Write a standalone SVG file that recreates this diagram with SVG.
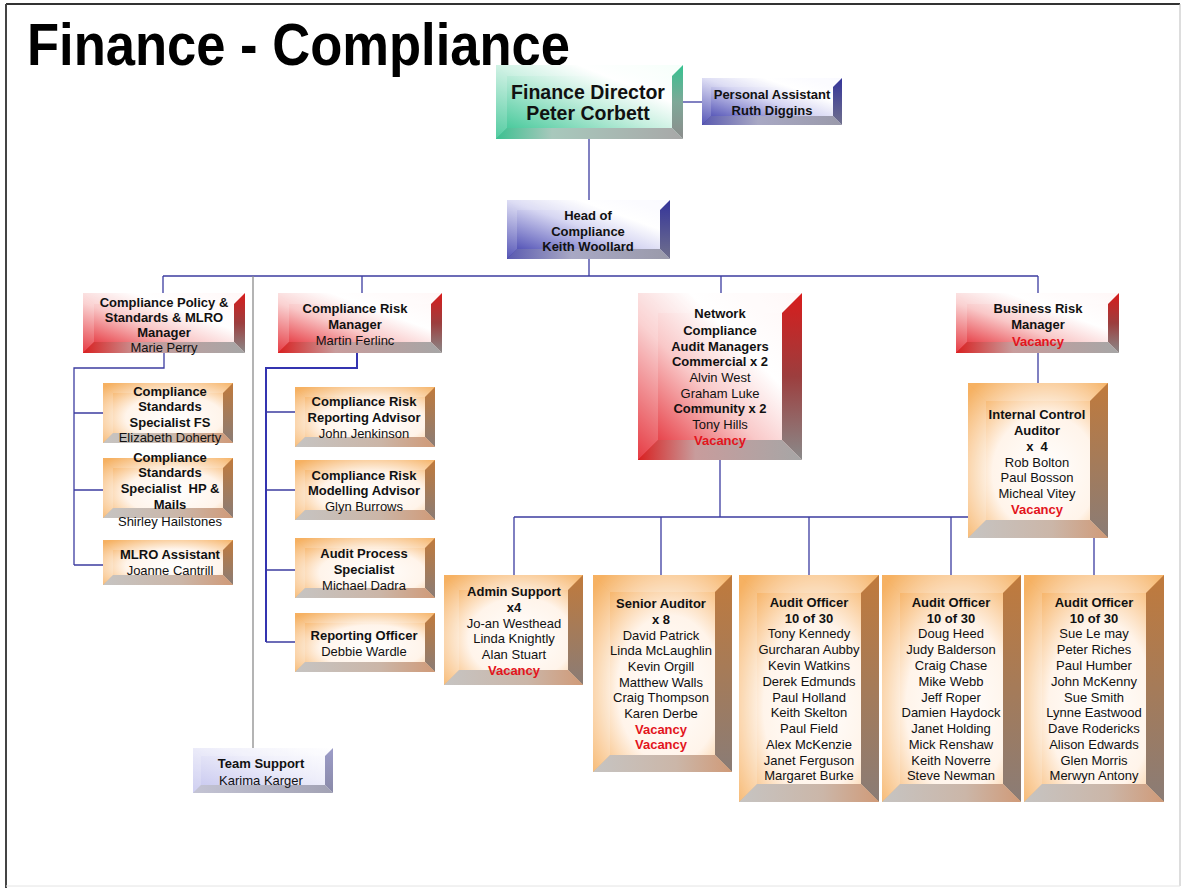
<svg xmlns="http://www.w3.org/2000/svg" width="1183" height="888" viewBox="0 0 1183 888">
<defs>
<linearGradient id="faceRed" x1="0" y1="1" x2="1" y2="0"><stop offset="0" stop-color="#e0101a"/><stop offset="0.42" stop-color="#f9c8c8"/><stop offset="0.66" stop-color="#ffffff"/><stop offset="1" stop-color="#fff6f6"/></linearGradient>
<linearGradient id="rightRed" x1="0" y1="0" x2="0" y2="1"><stop offset="0" stop-color="#d81c1c"/><stop offset="0.5" stop-color="#9c3e3e"/><stop offset="1" stop-color="#8a8a8a"/></linearGradient>
<linearGradient id="botRed" x1="0" y1="0" x2="1" y2="0"><stop offset="0" stop-color="#d82020"/><stop offset="0.35" stop-color="#c89c9c"/><stop offset="1" stop-color="#a6a6a6"/></linearGradient>
<linearGradient id="faceBlue" x1="0" y1="1" x2="1" y2="0"><stop offset="0" stop-color="#3030a6"/><stop offset="0.5" stop-color="#d6d6f2"/><stop offset="0.72" stop-color="#ffffff"/><stop offset="1" stop-color="#f8f8ff"/></linearGradient>
<linearGradient id="rightBlue" x1="0" y1="0" x2="0" y2="1"><stop offset="0" stop-color="#34349a"/><stop offset="1" stop-color="#70708c"/></linearGradient>
<linearGradient id="botBlue" x1="0" y1="0" x2="1" y2="0"><stop offset="0" stop-color="#5a5ab0"/><stop offset="0.4" stop-color="#a8a8c4"/><stop offset="1" stop-color="#9a9aaa"/></linearGradient>
<linearGradient id="faceGreen" x1="0" y1="1" x2="1" y2="0"><stop offset="0" stop-color="#2cc08c"/><stop offset="0.5" stop-color="#c6efdf"/><stop offset="0.72" stop-color="#ffffff"/><stop offset="1" stop-color="#f4fffa"/></linearGradient>
<linearGradient id="rightGreen" x1="0" y1="0" x2="0" y2="1"><stop offset="0" stop-color="#36c290"/><stop offset="0.5" stop-color="#7ea898"/><stop offset="1" stop-color="#8c8c8c"/></linearGradient>
<linearGradient id="botGreen" x1="0" y1="0" x2="1" y2="0"><stop offset="0" stop-color="#3cc090"/><stop offset="0.3" stop-color="#a8c8bc"/><stop offset="1" stop-color="#a8a8a8"/></linearGradient>
<radialGradient id="faceOrange" cx="0.55" cy="0.58" r="0.75"><stop offset="0" stop-color="#ffffff"/><stop offset="0.5" stop-color="#fff4ea"/><stop offset="1" stop-color="#f4a040"/></radialGradient>
<linearGradient id="rightOrange" x1="0" y1="0" x2="0" y2="1"><stop offset="0" stop-color="#c07a3c"/><stop offset="1" stop-color="#8a7c76"/></linearGradient>
<linearGradient id="botOrange" x1="0" y1="0" x2="1" y2="0"><stop offset="0" stop-color="#c6c4c2"/><stop offset="0.6" stop-color="#cbb6a8"/><stop offset="1" stop-color="#d09a78"/></linearGradient>
<linearGradient id="faceLav" x1="0" y1="1" x2="1" y2="0"><stop offset="0" stop-color="#c4c4ee"/><stop offset="0.6" stop-color="#eeeefa"/><stop offset="1" stop-color="#ffffff"/></linearGradient>
<linearGradient id="rightLav" x1="0" y1="0" x2="0" y2="1"><stop offset="0" stop-color="#9c9cc8"/><stop offset="1" stop-color="#8a8aa8"/></linearGradient>
<linearGradient id="botLav" x1="0" y1="0" x2="1" y2="0"><stop offset="0" stop-color="#c4c4d4"/><stop offset="1" stop-color="#a2a2b4"/></linearGradient>
</defs>
<style>
.t{font-family:"Liberation Sans",Arial,Helvetica,sans-serif;font-size:13px;text-anchor:middle;fill:#111}
.b{font-weight:bold}
.v{font-weight:bold;fill:#e3141c}
.big{font-size:19.5px;font-weight:bold}
.hi{fill:#ffffff;opacity:0.18}
.fr{fill:url(#faceRed)} .rr{fill:url(#rightRed)} .br{fill:url(#botRed)}
.fb{fill:url(#faceBlue)} .rb{fill:url(#rightBlue)} .bb{fill:url(#botBlue)}
.fg{fill:url(#faceGreen)} .rg{fill:url(#rightGreen)} .bg{fill:url(#botGreen)}
.fo{fill:url(#faceOrange)} .ro{fill:url(#rightOrange)} .bo{fill:url(#botOrange)}
.fl{fill:url(#faceLav)} .rl{fill:url(#rightLav)} .bl{fill:url(#botLav)}
.c{fill:none;stroke:#3c3ca0;stroke-width:1.3}
.c2{fill:none;stroke:#3434b0;stroke-width:2}
.cg{fill:none;stroke:#8c8c8c;stroke-width:1.3}
</style>
<rect x="0" y="0" width="1183" height="888" fill="#ffffff"/>
<g id="frame">
<line x1="6" y1="4" x2="1180" y2="4" stroke="#333" stroke-width="2"/>
<line x1="6" y1="4" x2="6" y2="888" stroke="#444" stroke-width="2"/>
<line x1="1180" y1="4" x2="1180" y2="886" stroke="#bbb" stroke-width="1"/>
<line x1="6" y1="886" x2="1180" y2="886" stroke="#e4e4e4" stroke-width="1"/>
</g>
<text x="27" y="65" font-family="Liberation Sans, Arial, sans-serif" font-size="60" font-weight="bold" textLength="543" lengthAdjust="spacingAndGlyphs" fill="#000">Finance - Compliance</text>
<g id="connectors">
<path class="c" d="M683,102H702"/>
<path class="c" d="M589,139V200"/>
<path class="c" d="M589,259V276M163,276H1038M163,276V293M362,276V293M721,276V293M1038,276V293"/>
<path class="cg" d="M253,276V748"/>
<path class="c" d="M164,353V368H74V565M74,413H103M74,490H103M74,565H103"/>
<path class="c2" d="M357,353V368H266V642"/>
<path class="c" d="M266,412H295M266,490H295M266,570H295M266,642H295"/>
<path class="c" d="M720,460V517M514,517H1094M514,517V575M661,517V575M809,517V575M951,517V575M1094,517V575"/>
<path class="c" d="M1038,353V383"/>
</g>
<g id="finance-director">
<rect class="fg" x="496" y="65" width="187" height="74"/>
<polygon class="hi" points="496,65 683,65 672,76 507,76"/>
<polygon class="hi" points="496,65 507,76 507,128 496,139"/>
<polygon class="rg" points="683,65 683,139 672,128 672,76"/>
<polygon class="bg" points="496,139 683,139 672,128 507,128"/>
<text class="t big" x="588" y="99">Finance Director</text>
<text class="t big" x="588" y="120">Peter Corbett</text>
</g>
<g id="personal-assistant">
<rect class="fb" x="702" y="78" width="140" height="47"/>
<polygon class="hi" points="702,78 842,78 833,87 711,87"/>
<polygon class="hi" points="702,78 711,87 711,116 702,125"/>
<polygon class="rb" points="842,78 842,125 833,116 833,87"/>
<polygon class="bb" points="702,125 842,125 833,116 711,116"/>
<text class="t b" x="772" y="99">Personal Assistant</text>
<text class="t b" x="772" y="115">Ruth Diggins</text>
</g>
<g id="head-of-compliance">
<rect class="fb" x="507" y="200" width="163" height="59"/>
<polygon class="hi" points="507,200 670,200 660,210 517,210"/>
<polygon class="hi" points="507,200 517,210 517,249 507,259"/>
<polygon class="rb" points="670,200 670,259 660,249 660,210"/>
<polygon class="bb" points="507,259 670,259 660,249 517,249"/>
<text class="t b" x="588" y="220">Head of</text>
<text class="t b" x="588" y="236">Compliance</text>
<text class="t b" x="588" y="251">Keith Woollard</text>
</g>
<g id="compliance-policy">
<rect class="fr" x="83" y="293" width="162" height="60"/>
<polygon class="hi" points="83,293 245,293 234,304 94,304"/>
<polygon class="hi" points="83,293 94,304 94,342 83,353"/>
<polygon class="rr" points="245,293 245,353 234,342 234,304"/>
<polygon class="br" points="83,353 245,353 234,342 94,342"/>
<text class="t b" x="164" y="307">Compliance Policy &amp;</text>
<text class="t b" x="164" y="322">Standards &amp; MLRO</text>
<text class="t b" x="164" y="337">Manager</text>
<text class="t" x="164" y="352">Marie Perry</text>
</g>
<g id="compliance-risk-manager">
<rect class="fr" x="278" y="293" width="164" height="60"/>
<polygon class="hi" points="278,293 442,293 431,304 289,304"/>
<polygon class="hi" points="278,293 289,304 289,342 278,353"/>
<polygon class="rr" points="442,293 442,353 431,342 431,304"/>
<polygon class="br" points="278,353 442,353 431,342 289,342"/>
<text class="t b" x="355" y="313">Compliance Risk</text>
<text class="t b" x="355" y="329">Manager</text>
<text class="t" x="355" y="345">Martin Ferlinc</text>
</g>
<g id="network-compliance">
<rect class="fr" x="638" y="293" width="164" height="167"/>
<polygon class="hi" points="638,293 802,293 782,313 658,313"/>
<polygon class="hi" points="638,293 658,313 658,440 638,460"/>
<polygon class="rr" points="802,293 802,460 782,440 782,313"/>
<polygon class="br" points="638,460 802,460 782,440 658,440"/>
<text class="t b" x="720" y="318">Network</text>
<text class="t b" x="720" y="334.5">Compliance</text>
<text class="t b" x="720" y="350.5">Audit Managers</text>
<text class="t b" x="720" y="366">Commercial x 2</text>
<text class="t" x="720" y="381.5">Alvin West</text>
<text class="t" x="720" y="397.5">Graham Luke</text>
<text class="t b" x="720" y="413">Community x 2</text>
<text class="t" x="720" y="428.5">Tony Hills</text>
<text class="t v" x="720" y="444.5">Vacancy</text>
</g>
<g id="business-risk-manager">
<rect class="fr" x="956" y="293" width="163" height="60"/>
<polygon class="hi" points="956,293 1119,293 1108,304 967,304"/>
<polygon class="hi" points="956,293 967,304 967,342 956,353"/>
<polygon class="rr" points="1119,293 1119,353 1108,342 1108,304"/>
<polygon class="br" points="956,353 1119,353 1108,342 967,342"/>
<text class="t b" x="1038" y="313">Business Risk</text>
<text class="t b" x="1038" y="329">Manager</text>
<text class="t v" x="1038" y="345.5">Vacancy</text>
</g>
<g id="css-fs">
<rect class="fo" x="103" y="383" width="130" height="60"/>
<polygon class="hi" points="103,383 233,383 223,393 113,393"/>
<polygon class="hi" points="103,383 113,393 113,433 103,443"/>
<polygon class="ro" points="233,383 233,443 223,433 223,393"/>
<polygon class="bo" points="103,443 233,443 223,433 113,433"/>
<text class="t b" x="170" y="395.5">Compliance</text>
<text class="t b" x="170" y="411">Standards</text>
<text class="t b" x="170" y="426.5">Specialist FS</text>
<text class="t" x="170" y="441.5">Elizabeth Doherty</text>
</g>
<g id="css-hp">
<rect class="fo" x="103" y="458" width="130" height="60"/>
<polygon class="hi" points="103,458 233,458 223,468 113,468"/>
<polygon class="hi" points="103,458 113,468 113,508 103,518"/>
<polygon class="ro" points="233,458 233,518 223,508 223,468"/>
<polygon class="bo" points="103,518 233,518 223,508 113,508"/>
<text class="t b" x="170" y="461.5">Compliance</text>
<text class="t b" x="170" y="477">Standards</text>
<text class="t b" x="170" y="493" xml:space="preserve">Specialist  HP &amp;</text>
<text class="t b" x="170" y="509">Mails</text>
<text class="t" x="170" y="526">Shirley Hailstones</text>
</g>
<g id="mlro-assistant">
<rect class="fo" x="103" y="540" width="130" height="45"/>
<polygon class="hi" points="103,540 233,540 223,550 113,550"/>
<polygon class="hi" points="103,540 113,550 113,575 103,585"/>
<polygon class="ro" points="233,540 233,585 223,575 223,550"/>
<polygon class="bo" points="103,585 233,585 223,575 113,575"/>
<text class="t b" x="170" y="559">MLRO Assistant</text>
<text class="t" x="170" y="575">Joanne Cantrill</text>
</g>
<g id="cr-reporting">
<rect class="fo" x="295" y="387" width="140" height="60"/>
<polygon class="hi" points="295,387 435,387 425,397 305,397"/>
<polygon class="hi" points="295,387 305,397 305,437 295,447"/>
<polygon class="ro" points="435,387 435,447 425,437 425,397"/>
<polygon class="bo" points="295,447 435,447 425,437 305,437"/>
<text class="t b" x="364" y="406">Compliance Risk</text>
<text class="t b" x="364" y="422">Reporting Advisor</text>
<text class="t" x="364" y="438">John Jenkinson</text>
</g>
<g id="cr-modelling">
<rect class="fo" x="295" y="460" width="140" height="60"/>
<polygon class="hi" points="295,460 435,460 425,470 305,470"/>
<polygon class="hi" points="295,460 305,470 305,510 295,520"/>
<polygon class="ro" points="435,460 435,520 425,510 425,470"/>
<polygon class="bo" points="295,520 435,520 425,510 305,510"/>
<text class="t b" x="364" y="480">Compliance Risk</text>
<text class="t b" x="364" y="495">Modelling Advisor</text>
<text class="t" x="364" y="511">Glyn Burrows</text>
</g>
<g id="audit-process">
<rect class="fo" x="295" y="538" width="140" height="60"/>
<polygon class="hi" points="295,538 435,538 425,548 305,548"/>
<polygon class="hi" points="295,538 305,548 305,588 295,598"/>
<polygon class="ro" points="435,538 435,598 425,588 425,548"/>
<polygon class="bo" points="295,598 435,598 425,588 305,588"/>
<text class="t b" x="364" y="558">Audit Process</text>
<text class="t b" x="364" y="574">Specialist</text>
<text class="t" x="364" y="590">Michael Dadra</text>
</g>
<g id="reporting-officer">
<rect class="fo" x="295" y="613" width="140" height="59"/>
<polygon class="hi" points="295,613 435,613 425,623 305,623"/>
<polygon class="hi" points="295,613 305,623 305,662 295,672"/>
<polygon class="ro" points="435,613 435,672 425,662 425,623"/>
<polygon class="bo" points="295,672 435,672 425,662 305,662"/>
<text class="t b" x="364" y="640">Reporting Officer</text>
<text class="t" x="364" y="655.5">Debbie Wardle</text>
</g>
<g id="internal-control">
<rect class="fo" x="968" y="383" width="140" height="155"/>
<polygon class="hi" points="968,383 1108,383 1090,401 986,401"/>
<polygon class="hi" points="968,383 986,401 986,520 968,538"/>
<polygon class="ro" points="1108,383 1108,538 1090,520 1090,401"/>
<polygon class="bo" points="968,538 1108,538 1090,520 986,520"/>
<text class="t b" x="1037" y="418.5">Internal Control</text>
<text class="t b" x="1037" y="434.5">Auditor</text>
<text class="t b" x="1037" y="450.5" xml:space="preserve">x  4</text>
<text class="t" x="1037" y="466.5">Rob Bolton</text>
<text class="t" x="1037" y="482">Paul Bosson</text>
<text class="t" x="1037" y="498">Micheal Vitey</text>
<text class="t v" x="1037" y="513.5">Vacancy</text>
</g>
<g id="admin-support">
<rect class="fo" x="444" y="575" width="139" height="110"/>
<polygon class="hi" points="444,575 583,575 568,590 459,590"/>
<polygon class="hi" points="444,575 459,590 459,670 444,685"/>
<polygon class="ro" points="583,575 583,685 568,670 568,590"/>
<polygon class="bo" points="444,685 583,685 568,670 459,670"/>
<text class="t b" x="514" y="596">Admin Support</text>
<text class="t b" x="514" y="612">x4</text>
<text class="t" x="514" y="627.5">Jo-an Westhead</text>
<text class="t" x="514" y="643">Linda Knightly</text>
<text class="t" x="514" y="658.5">Alan Stuart</text>
<text class="t v" x="514" y="674.5">Vacancy</text>
</g>
<g id="senior-auditor">
<rect class="fo" x="593" y="575" width="139" height="197"/>
<polygon class="hi" points="593,575 732,575 715,592 610,592"/>
<polygon class="hi" points="593,575 610,592 610,755 593,772"/>
<polygon class="ro" points="732,575 732,772 715,755 715,592"/>
<polygon class="bo" points="593,772 732,772 715,755 610,755"/>
<text class="t b" x="661" y="608">Senior Auditor</text>
<text class="t b" x="661" y="623.5">x 8</text>
<text class="t" x="661" y="639.5">David Patrick</text>
<text class="t" x="661" y="655">Linda McLaughlin</text>
<text class="t" x="661" y="670.5">Kevin Orgill</text>
<text class="t" x="661" y="686.5">Matthew Walls</text>
<text class="t" x="661" y="702">Craig Thompson</text>
<text class="t" x="661" y="718">Karen Derbe</text>
<text class="t v" x="661" y="733.5">Vacancy</text>
<text class="t v" x="661" y="749">Vacancy</text>
</g>
<g id="audit-officer-1">
<rect class="fo" x="739" y="575" width="140" height="227"/>
<polygon class="hi" points="739,575 879,575 861,593 757,593"/>
<polygon class="hi" points="739,575 757,593 757,784 739,802"/>
<polygon class="ro" points="879,575 879,802 861,784 861,593"/>
<polygon class="bo" points="739,802 879,802 861,784 757,784"/>
<text class="t b" x="809" y="607">Audit Officer</text>
<text class="t b" x="809" y="622.5">10 of 30</text>
<text class="t" x="809" y="638">Tony Kennedy</text>
<text class="t" x="809" y="654">Gurcharan Aubby</text>
<text class="t" x="809" y="669.5">Kevin Watkins</text>
<text class="t" x="809" y="685.5">Derek Edmunds</text>
<text class="t" x="809" y="701.5">Paul Holland</text>
<text class="t" x="809" y="717">Keith Skelton</text>
<text class="t" x="809" y="733">Paul Field</text>
<text class="t" x="809" y="748.5">Alex McKenzie</text>
<text class="t" x="809" y="764.5">Janet Ferguson</text>
<text class="t" x="809" y="780">Margaret Burke</text>
</g>
<g id="audit-officer-2">
<rect class="fo" x="882" y="575" width="139" height="227"/>
<polygon class="hi" points="882,575 1021,575 1003,593 900,593"/>
<polygon class="hi" points="882,575 900,593 900,784 882,802"/>
<polygon class="ro" points="1021,575 1021,802 1003,784 1003,593"/>
<polygon class="bo" points="882,802 1021,802 1003,784 900,784"/>
<text class="t b" x="951" y="607">Audit Officer</text>
<text class="t b" x="951" y="622.5">10 of 30</text>
<text class="t" x="951" y="638">Doug Heed</text>
<text class="t" x="951" y="654">Judy Balderson</text>
<text class="t" x="951" y="669.5">Craig Chase</text>
<text class="t" x="951" y="685.5">Mike Webb</text>
<text class="t" x="951" y="701.5">Jeff Roper</text>
<text class="t" x="951" y="717">Damien Haydock</text>
<text class="t" x="951" y="733">Janet Holding</text>
<text class="t" x="951" y="748.5">Mick Renshaw</text>
<text class="t" x="951" y="764.5">Keith Noverre</text>
<text class="t" x="951" y="780">Steve Newman</text>
</g>
<g id="audit-officer-3">
<rect class="fo" x="1024" y="575" width="140" height="227"/>
<polygon class="hi" points="1024,575 1164,575 1146,593 1042,593"/>
<polygon class="hi" points="1024,575 1042,593 1042,784 1024,802"/>
<polygon class="ro" points="1164,575 1164,802 1146,784 1146,593"/>
<polygon class="bo" points="1024,802 1164,802 1146,784 1042,784"/>
<text class="t b" x="1094" y="607">Audit Officer</text>
<text class="t b" x="1094" y="622.5">10 of 30</text>
<text class="t" x="1094" y="638">Sue Le may</text>
<text class="t" x="1094" y="654">Peter Riches</text>
<text class="t" x="1094" y="669.5">Paul Humber</text>
<text class="t" x="1094" y="685.5">John McKenny</text>
<text class="t" x="1094" y="701.5">Sue Smith</text>
<text class="t" x="1094" y="717">Lynne Eastwood</text>
<text class="t" x="1094" y="733">Dave Rodericks</text>
<text class="t" x="1094" y="748.5">Alison Edwards</text>
<text class="t" x="1094" y="764.5">Glen Morris</text>
<text class="t" x="1094" y="780">Merwyn Antony</text>
</g>
<g id="team-support">
<rect class="fl" x="193" y="748" width="140" height="45"/>
<polygon class="hi" points="193,748 333,748 325,756 201,756"/>
<polygon class="hi" points="193,748 201,756 201,785 193,793"/>
<polygon class="rl" points="333,748 333,793 325,785 325,756"/>
<polygon class="bl" points="193,793 333,793 325,785 201,785"/>
<text class="t b" x="261" y="768">Team Support</text>
<text class="t" x="261" y="784.5">Karima Karger</text>
</g>
</svg>
